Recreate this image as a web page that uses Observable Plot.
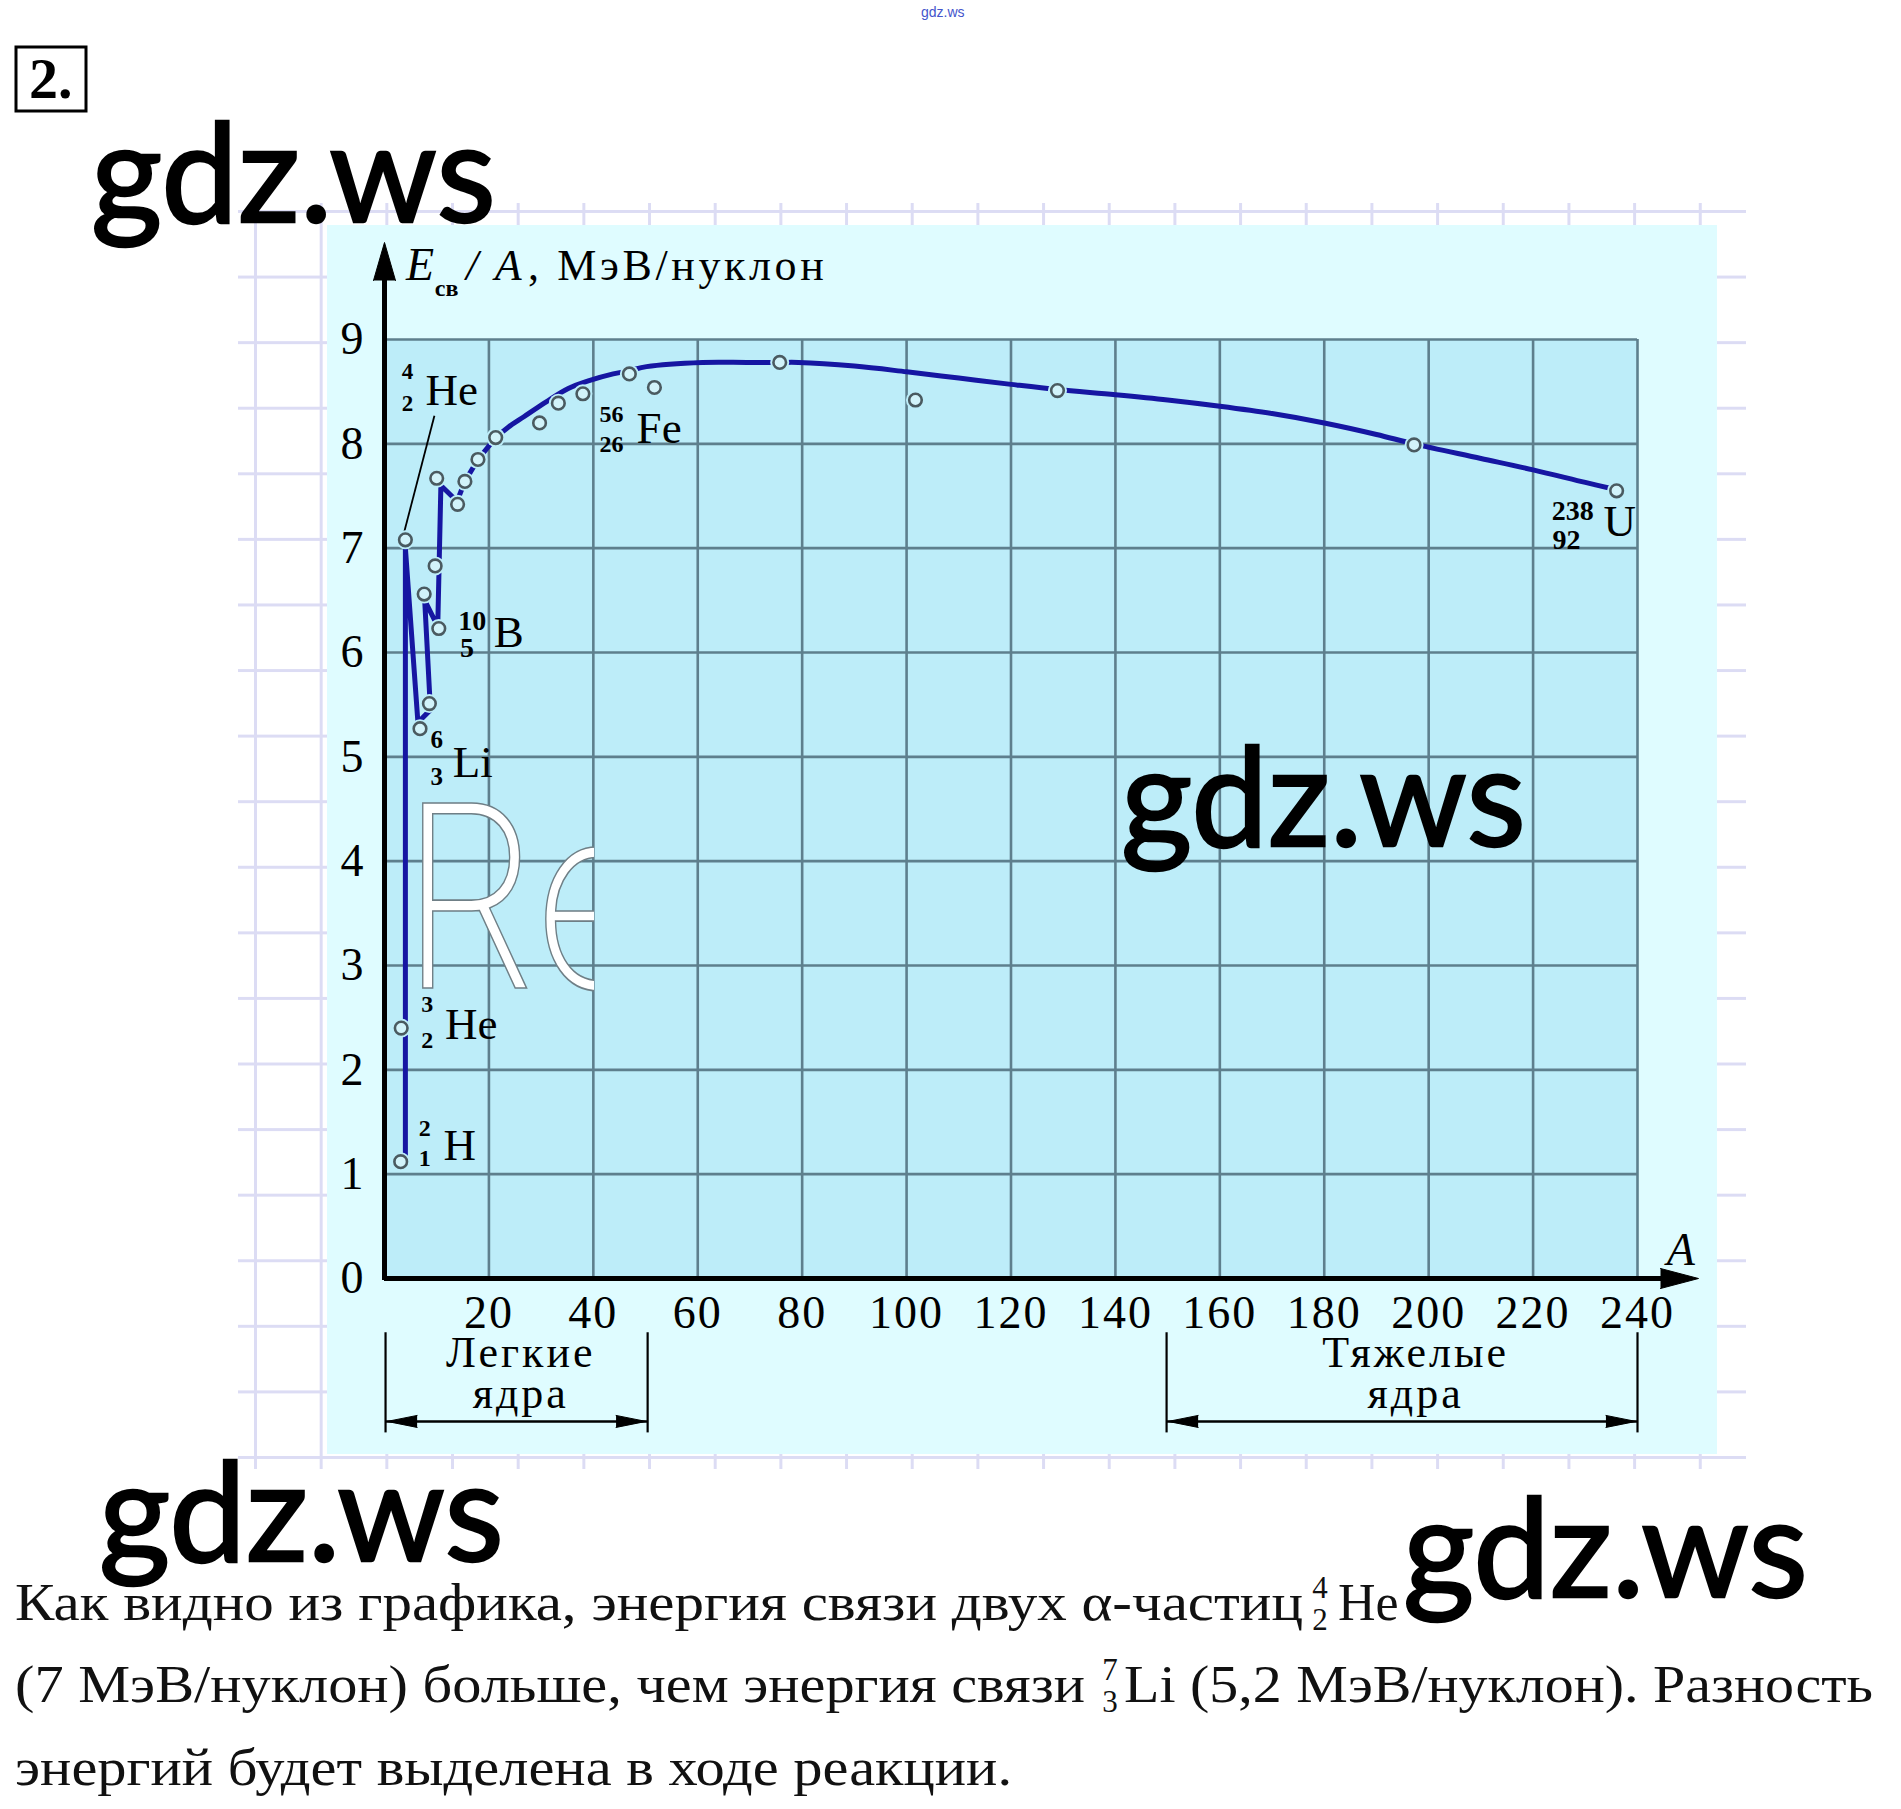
<!DOCTYPE html>
<html><head><meta charset="utf-8">
<script src="https://cdn.jsdelivr.net/npm/d3@7"></script>
<script src="https://cdn.jsdelivr.net/npm/@observablehq/plot@0.6"></script>
<style>
html,body{margin:0;padding:0;background:#fff;}
#page{position:relative;width:1901px;height:1809px;overflow:hidden;background:#fff;}
.abs{position:absolute;}
#paperH{left:238px;top:209.5px;width:1508px;height:1250px;background-image:linear-gradient(to bottom,#dcdcf4 0,#dcdcf4 3px,transparent 3px);background-size:100% 65.58px;}
#paperV{left:253.5px;top:203px;width:1452px;height:1266px;background-image:linear-gradient(to right,#dcdcf4 0,#dcdcf4 3px,transparent 3px);background-size:65.68px 100%;}
#panel{left:327px;top:225px;width:1390px;height:1229px;background:#dffcff;}
#chart{left:0;top:0;}
#overlay{left:0;top:0;}
</style></head><body>
<div id="page">
  <div class="abs" id="paperH"></div>
  <div class="abs" id="paperV"></div>
  <div class="abs" id="panel"></div>
  <div class="abs" id="chart"></div>
  <svg class="abs" id="overlay" width="1901" height="1809" xmlns="http://www.w3.org/2000/svg">
    <defs><clipPath id="reclip"><rect x="405" y="780" width="189" height="230"/></clipPath></defs>
    <g clip-path="url(#reclip)">
      <text x="400" y="988" font-family="Inter" font-weight="200" font-size="255" fill="#ffffff" stroke="#6f7f86" stroke-width="1.6" transform="translate(400 0) scale(0.85 1) translate(-400 0)">Re</text>
    </g>
    <text x="921" y="17" font-family="Liberation Sans" font-size="14" fill="#4455cc">gdz.ws</text>
    <rect x="16" y="47" width="70" height="64" fill="none" stroke="#000" stroke-width="3"/>
    <text x="29" y="98" font-family="Liberation Serif" font-weight="bold" font-size="58" fill="#000">2.</text>
    <g font-family="Lato" font-size="137" fill="#000" stroke="#000" stroke-width="2.5">
      <text x="91" y="222">gdz.ws</text>
      <text x="1121" y="846">gdz.ws</text>
      <text x="99" y="1561">gdz.ws</text>
      <text x="1403" y="1597">gdz.ws</text>
    </g>
    <g font-family="Liberation Serif" font-size="52" fill="#111">
      <text x="15" y="1620" textLength="1288" lengthAdjust="spacingAndGlyphs">Как видно из графика, энергия связи двух α-частиц</text>
      <text x="1320" y="1598" font-size="31" text-anchor="middle">4</text>
      <text x="1320" y="1630" font-size="31" text-anchor="middle">2</text>
      <text x="1338" y="1620">He</text>
      <text x="15" y="1702" textLength="1070" lengthAdjust="spacingAndGlyphs">(7 МэВ/нуклон) больше, чем энергия связи</text>
      <text x="1110" y="1680" font-size="31" text-anchor="middle">7</text>
      <text x="1110" y="1712" font-size="31" text-anchor="middle">3</text>
      <text x="1124" y="1702" textLength="749" lengthAdjust="spacingAndGlyphs">Li (5,2 МэВ/нуклон). Разность</text>
      <text x="15" y="1785" textLength="997" lengthAdjust="spacingAndGlyphs">энергий будет выделена в ходе реакции.</text>
    </g>
  </svg>
</div>
<script>
// ---------- data ----------
// measured nuclides: mass number A and binding energy per nucleon (MeV)
const massNumber = [3.1, 3.2, 4.0, 6.8, 8.6, 7.6, 10.4, 9.7, 10.0, 14.0, 15.4, 17.9, 21.3, 29.7, 33.3, 38.0, 46.9, 51.7, 75.7, 101.7, 128.9, 197.2, 236.0];
const bindingPerNucleon = [1.12, 2.40, 7.08, 5.27, 5.51, 6.56, 6.23, 6.83, 7.67, 7.42, 7.64, 7.85, 8.06, 8.20, 8.39, 8.48, 8.67, 8.54, 8.78, 8.42, 8.51, 7.99, 7.55];

// drawn curve: light-nuclei zigzag and smooth main curve
const lightCurveA = [4.0, 4.0, 6.4, 8.8, 7.7, 10.2, 10.8, 13.9, 15.4, 17.9, 21.3];
const lightCurveE = [1.12, 7.0, 5.33, 5.45, 6.5, 6.25, 7.6, 7.45, 7.64, 7.85, 8.06];
const mainCurveA = [21.3, 23.7, 26.7, 30.9, 35.2, 39.5, 43.8, 46.8, 50.2, 60.9, 69.4, 75.7, 79.3, 90, 100, 110, 120, 128.9, 140, 150, 160, 170, 180, 190, 197.2, 210, 220, 230, 236];
const mainCurveE = [8.06, 8.16, 8.26, 8.40, 8.53, 8.61, 8.67, 8.70, 8.74, 8.78, 8.78, 8.78, 8.78, 8.745, 8.69, 8.63, 8.57, 8.52, 8.47, 8.42, 8.36, 8.29, 8.20, 8.09, 8.0, 7.86, 7.75, 7.63, 7.56];

// ticks
const xTicks = [20, 40, 60, 80, 100, 120, 140, 160, 180, 200, 220, 240];
const yTicks = [0, 1, 2, 3, 4, 5, 6, 7, 8, 9];

// isotope labels
const isoMass = ["2", "3", "4", "6", "10", "56", "238"];
const isoCharge = ["1", "2", "2", "3", "5", "26", "92"];
const isoSymbol = ["H", "He", "He", "Li", "B", "Fe", "U"];

// nucleus groups under the axis
const groupNames = ["Легкие\nядра", "Тяжелые\nядра"];
const groupFrom = [0.2, 149.8];
const groupTo = [50.4, 240];

// ---------- layout ----------
const W = 1901, H = 1500;
const mL = 384, mR = 264, mT = 339, mB = H - 1278;
const kx = 240 / (W - mL - mR); // data units per px
const ky = 9 / (H - mT - mB);

// label placement (A, E) for mass number, charge, symbol; index size
const labelLayout = [
  {m: [7.7, 1.44], z: [7.7, 1.15], s: [14.4, 1.27], f: 24},
  {m: [8.2, 2.63], z: [8.2, 2.28], s: [16.6, 2.43], f: 24},
  {m: [4.4, 8.69], z: [4.4, 8.39], s: [12.9, 8.51], f: 23},
  {m: [10.0, 5.16], z: [10.0, 4.81], s: [16.9, 4.94], f: 25},
  {m: [16.8, 6.30], z: [15.8, 6.04], s: [23.8, 6.19], f: 28},
  {m: [43.5, 8.28], z: [43.5, 8.00], s: [52.6, 8.15], f: 24},
  {m: [227.6, 7.36], z: [226.4, 7.08], s: [236.6, 7.25], f: 28}
];
const groupLabelPos = [[26.1, -0.92], [197.5, -0.92]];

const points = massNumber.map((a, i) => ({a, e: bindingPerNucleon[i]}));
const light = lightCurveA.map((a, i) => ({a, e: lightCurveE[i]}));
const main = mainCurveA.map((a, i) => ({a, e: mainCurveE[i]}));
const massLabels = isoMass.map((t, i) => ({t, a: labelLayout[i].m[0], e: labelLayout[i].m[1], f: labelLayout[i].f}));
const chargeLabels = isoCharge.map((t, i) => ({t, a: labelLayout[i].z[0], e: labelLayout[i].z[1], f: labelLayout[i].f}));
const symbolLabels = isoSymbol.map((t, i) => ({t, a: labelLayout[i].s[0], e: labelLayout[i].s[1]}));
const groups = groupNames.map((t, i) => ({t, from: groupFrom[i], to: groupTo[i], a: groupLabelPos[i][0], e: groupLabelPos[i][1]}));

// filled triangle arrowhead: tip (a,e), pixel direction (dx,dy up-positive)
function tri(id, a, e, dx, dy, len, half) {
  const bx = a - dx * len * kx, by = e - dy * len * ky;
  return [
    {id, a: bx - dy * half * kx, e: by + dx * half * ky},
    {id, a, e},
    {id, a: bx + dy * half * kx, e: by - dx * half * ky}
  ];
}
const yTip = (1278 - 242) * ky, xTip = (1698 - 384) * kx;
const bracketE = -1.37;
const heads = [
  ...tri("y", 0, yTip, 0, 1, 38, 11),
  ...tri("x", xTip, 0, 1, 0, 38, 10),
  ...groups.flatMap((g, i) => [
    ...tri("gl" + i, g.from + 0.3, bracketE, -1, 0, 30, 6),
    ...tri("gr" + i, g.to - 0.3, bracketE, 1, 0, 30, 6)
  ])
];

const gridColor = "#5e7f8d";
const lineColor = "#1616a2";
const plotBg = "#bdedf9";
const serif = "Liberation Serif";
const titleRest = ", МэВ/нуклон";

const chart = Plot.plot({
  width: W, height: H,
  marginLeft: mL, marginRight: mR, marginTop: mT, marginBottom: mB,
  style: {background: "transparent", fontFamily: serif, fontSize: "46px", color: "#000", overflow: "visible"},
  x: {domain: [0, 240], ticks: xTicks, tickSize: 0, tickPadding: 17, label: null, tickFormat: d => String(d)},
  y: {domain: [0, 9], ticks: yTicks, tickSize: 0, tickPadding: 19, label: null, tickFormat: d => String(d)},
  marks: [
    Plot.rect([0], {x1: 0, x2: 240, y1: 0, y2: 9, fill: plotBg}),
    Plot.ruleX(xTicks, {y1: 0, y2: 9, stroke: gridColor, strokeWidth: 2.6}),
    Plot.ruleY(yTicks.filter(d => d > 0), {x1: 0, x2: 240, stroke: gridColor, strokeWidth: 2.6}),
    // axes with arrows
    Plot.ruleX([0], {y1: -0.02, y2: yTip - 20 * ky, stroke: "#000", strokeWidth: 5}),
    Plot.ruleY([0], {x1: 0, x2: xTip - 20 * kx, stroke: "#000", strokeWidth: 5}),
    // group brackets
    Plot.ruleX(groups, {x: "from", y1: -0.52, y2: -1.48, stroke: "#000", strokeWidth: 2.2}),
    Plot.ruleX(groups, {x: "to", y1: -0.52, y2: -1.48, stroke: "#000", strokeWidth: 2.2}),
    Plot.link(groups, {x1: "from", x2: "to", y1: bracketE, y2: bracketE, stroke: "#000", strokeWidth: 2.6}),
    Plot.line(heads, {x: "a", y: "e", z: "id", fill: "#000", stroke: "#000", strokeWidth: 1}),
    Plot.text(groups, {x: "a", y: "e", text: "t", fontSize: 44, fontFamily: serif, lineHeight: 0.92, fill: "#000"}),
    // axis titles
    Plot.text(["E"], {x: 6.8, y: 9.71, text: d => d, fontSize: 46, fontStyle: "italic", fontFamily: serif, fill: "#000"}),
    Plot.text(["св"], {x: 11.9, y: 9.49, text: d => d, fontSize: 24, fontFamily: serif, fontWeight: "bold", fill: "#000"}),
    Plot.text(["/"], {x: 16.8, y: 9.71, text: d => d, fontSize: 44, fontStyle: "italic", fontFamily: serif, fill: "#000"}),
    Plot.text(["A"], {x: 23.7, y: 9.71, text: d => d, fontSize: 44, fontStyle: "italic", fontFamily: serif, fill: "#000"}),
    Plot.text([titleRest], {x: 27.5, y: 9.71, text: d => d, fontSize: 44, fontFamily: serif, textAnchor: "start", fill: "#000"}),
    Plot.text(["A"], {x: 248.3, y: 0.27, text: d => d, fontSize: 46, fontStyle: "italic", fontFamily: serif, fill: "#000"}),
    // leader line for 4He
    Plot.link([0], {x1: 9.56, y1: 8.27, x2: 3.75, y2: 7.15, stroke: "#000", strokeWidth: 1.8}),
    // curve
    Plot.line(light, {x: "a", y: "e", stroke: lineColor, strokeWidth: 5, strokeLinejoin: "round"}),
    Plot.line(main, {x: "a", y: "e", stroke: lineColor, strokeWidth: 5, curve: "catmull-rom"}),
    // circles with halo
    Plot.dot(points, {x: "a", y: "e", r: 9.5, fill: plotBg, stroke: null}),
    Plot.dot(points, {x: "a", y: "e", r: 6.3, fill: "#d2f3fa", stroke: "#4a5a60", strokeWidth: 2.6}),
    // isotope labels
    Plot.text(massLabels, {x: "a", y: "e", text: "t", fontSize: "f", fontWeight: "bold", fontFamily: serif, fill: "#000"}),
    Plot.text(chargeLabels, {x: "a", y: "e", text: "t", fontSize: "f", fontWeight: "bold", fontFamily: serif, fill: "#000"}),
    Plot.text(symbolLabels, {x: "a", y: "e", text: "t", fontSize: 45, fontFamily: serif, fill: "#000"})
  ]
});
// typewriter-like spacing of the original lettering
function spacing(pred, px) {
  chart.querySelectorAll("text").forEach(t => {
    if (pred(t)) { t.setAttribute("letter-spacing", px + "px"); t.style.letterSpacing = px + "px"; }
  });
}
spacing(t => t.closest('[aria-label*="axis"]') !== null || (/^\d+$/.test(t.textContent) && (xTicks.includes(+t.textContent) || yTicks.includes(+t.textContent)) && !t.getAttribute("font-weight") && !t.closest("[font-weight]")), 2);
spacing(t => groupNames.some(g => t.textContent.replace(/\s/g, "") === g.replace(/\s/g, "")), 3);
spacing(t => t.textContent === titleRest, 3.6);
document.getElementById("chart").appendChild(chart);
</script>
</body></html>
